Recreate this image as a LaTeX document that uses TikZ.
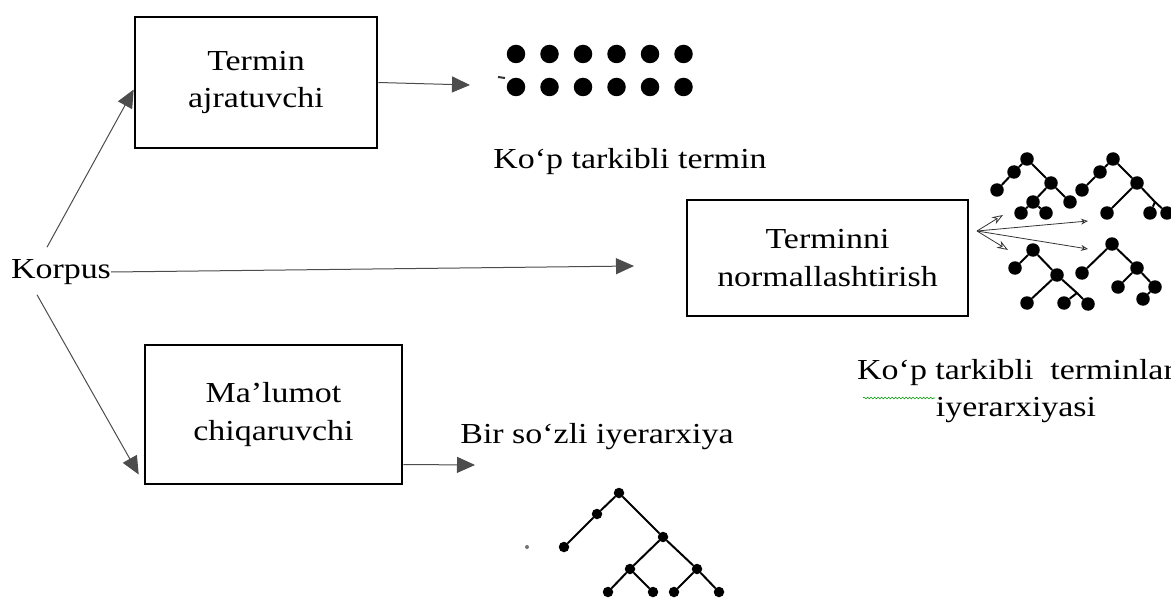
\documentclass[tikz,border=0pt]{standalone}
\usepackage{fontspec}
\setmainfont{Liberation Serif}[FakeStretch=1.17]
\usetikzlibrary{arrows.meta,decorations.pathmorphing}

\begin{document}
\begin{tikzpicture}[
  x=1pt, y=-1pt,
  font=\fontsize{29}{37.5}\selectfont,
  block/.style = {draw=black, line width=2.6pt, align=center, inner sep=0pt},
  flow/.style  = {draw=black!70, line width=1pt, -{Triangle[length=18pt,width=16pt]}},
  dot/.style   = {circle, fill=black, inner sep=0pt, minimum size=18.5pt},
  leaf/.style  = {circle, fill=black, inner sep=0pt, minimum size=13.5pt},
  bud/.style   = {circle, fill=black, inner sep=0pt, minimum size=10.5pt},
  twig/.style  = {draw=black, line width=2pt},
  link/.style  = {draw=black!80, line width=0.8pt, -{Stealth[open,length=7pt,width=6pt]}},
  barb/.style  = {draw=black!80, line width=0.8pt, -{Stealth[open,length=11pt,width=8pt]}},
]
\useasboundingbox (0,0) rectangle (1171,599);

% ── Blocks ─────────────────────────────────────────────────────────────────
\node[block, minimum width=242pt, minimum height=131pt] (ajrat) at (256,82.5)
  {Termin\\ajratuvchi};
\node[block, minimum width=281pt, minimum height=116pt] (norm) at (827.5,258)
  {Terminni\\normallashtirish};
\node[block, minimum width=257pt, minimum height=139pt] (chiq) at (273.5,414.5)
  {Ma’lumot\\chiqaruvchi};

\node[inner sep=0pt] (korpus) at (61,272) {Korpus};

% ── Flow from the corpus ───────────────────────────────────────────────────
\coordinate (normin) at (634,266);
\draw[flow] ([xshift=-14pt,yshift=12pt]korpus.north) -- ([yshift=-7pt]ajrat.west);
\draw[flow] (korpus.east) -- (normin);
\draw[flow] ([xshift=-24pt,yshift=-10pt]korpus.south) -- ([xshift=-5pt,yshift=-60pt]chiq.west);

% ── Multi-word terms (dot grid) ────────────────────────────────────────────
\coordinate (dotsin) at (470,85);
\draw[flow] (ajrat.east) -- (dotsin);

\foreach \i in {0,...,5} {
  \node[dot] (top\i) at (516+33.5*\i,54) {};
  \node[dot] (bot\i) at (516+33.5*\i,87) {};
}
\draw[line width=2pt, black!80] (498,77) -- (505,78);

\node (multi) at (630,162) {Ko‘p tarkibli termin};

% ── Single-word hierarchy ──────────────────────────────────────────────────
\coordinate (birin) at (475,465);
\draw[flow] ([yshift=-50pt]chiq.east) -- (birin);
\node (bir) at (597,437) {Bir so‘zli iyerarxiya};

\node[bud] (r0) at (619,493) {};
\node[bud] (r1) at (597,514) {};
\node[bud] (r2) at (564,547) {};
\node[bud] (r3) at (663,537) {};
\node[bud] (r4) at (630,569) {};
\node[bud] (r5) at (697,569) {};
\node[bud] (r6) at (608,592) {};
\node[bud] (r7) at (653,592) {};
\node[bud] (r8) at (674,592) {};
\node[bud] (r9) at (719,592) {};
\draw[twig] (r2) -- (r1) -- (r0) -- (r3) -- (r4) -- (r6);
\draw[twig] (r4) -- (r7);
\draw[twig] (r3) -- (r5) -- (r8);
\draw[twig] (r5) -- (r9);
\fill[black!55] (527,547) circle (2pt);

% ── Multi-word hierarchies ─────────────────────────────────────────────────
% tree a
\node[leaf] (a0) at (1027,159) {};
\node[leaf] (a1) at (1014,172) {};
\node[leaf] (a2) at (997,190) {};
\node[leaf] (a3) at (1051,183) {};
\node[leaf] (a4) at (1033,202) {};
\node[leaf] (a5) at (1021,213) {};
\node[leaf] (a6) at (1046,213) {};
\node[leaf] (a7) at (1070,202) {};
\draw[twig] (a2) -- (a1) -- (a0) -- (a3) -- (a4) -- (a5);
\draw[twig] (a4) -- (a6);
\draw[twig] (a3) -- (a7);

% tree b
\node[leaf] (b0) at (1113,159) {};
\node[leaf] (b1) at (1100,172) {};
\node[leaf] (b2) at (1082,190) {};
\node[leaf] (b3) at (1137,183) {};
\node[leaf] (b4) at (1107,213) {};
\node[leaf] (b5) at (1150,213) {};
\node[leaf] (b6) at (1167,213) {};
\coordinate (bj) at (1155,202);
\draw[twig] (b2) -- (b1) -- (b0) -- (b3) -- (b4);
\draw[twig] (b3) -- (bj) -- (b5);
\draw[twig] (bj) -- (b6);

% tree c
\node[leaf] (c0) at (1033,250) {};
\node[leaf] (c1) at (1015,268) {};
\node[leaf] (c2) at (1057,275) {};
\node[leaf] (c3) at (1027,303) {};
\node[leaf] (c4) at (1064,303) {};
\node[leaf] (c5) at (1088,304) {};
\coordinate (cj) at (1077,293);
\draw[twig] (c1) -- (c0) -- (c2) -- (c3);
\draw[twig] (c2) -- (cj) -- (c4);
\draw[twig] (cj) -- (c5);

% tree d
\node[leaf] (d0) at (1112,244) {};
\node[leaf] (d1) at (1082,273) {};
\node[leaf] (d2) at (1137,268) {};
\node[leaf] (d3) at (1118,287) {};
\node[leaf] (d4) at (1155,287) {};
\node[leaf] (d5) at (1143,299) {};
\draw[twig] (d1) -- (d0) -- (d2) -- (d3);
\draw[twig] (d2) -- (d4) -- (d5);

% fan of arrows between the trees
\coordinate (fork) at (977,231);
\coordinate (forkup) at (1088,221);
\coordinate (forkdn) at (1088,249);
\coordinate (barbup) at (1003,215);
\coordinate (barbdn) at (1008,250);
\draw[link] (fork) -- (forkup);
\draw[link] (fork) -- (forkdn);
\draw[barb] (fork) -- (barbup);
\draw[barb] (fork) -- (barbdn);

\node[align=center] (multih) at (1016,391) {Ko‘p tarkibli\ \ terminlar\\iyerarxiyasi};
\draw[green!60!black, line width=0.6pt, decorate,
  decoration={snake, amplitude=0.9pt, segment length=3.5pt}] (863,398) -- (935,398);

\end{tikzpicture}
\end{document}
